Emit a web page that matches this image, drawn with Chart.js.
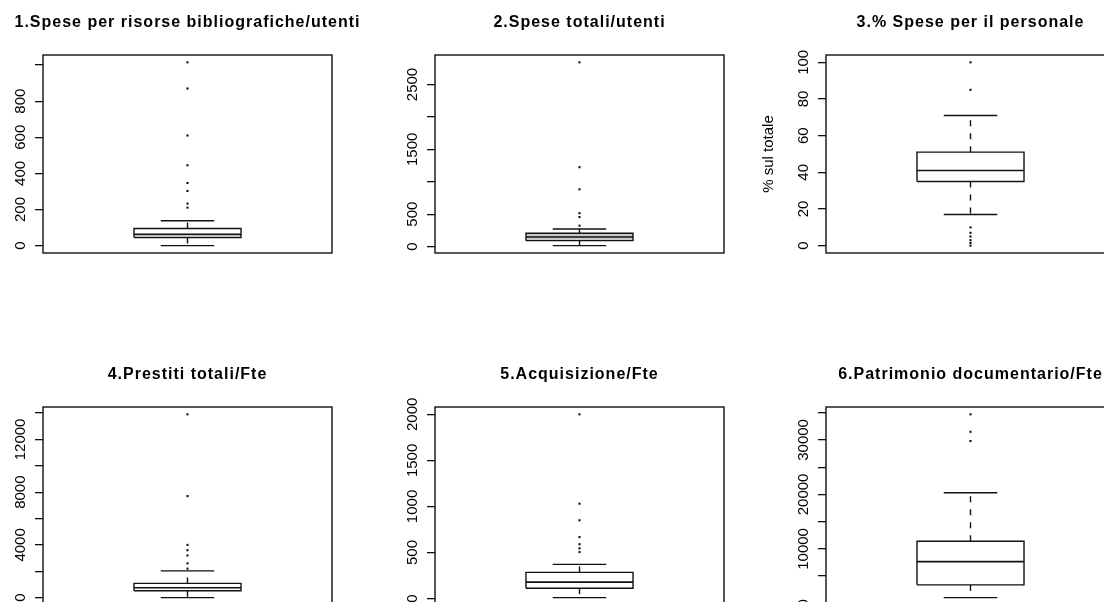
<!DOCTYPE html>
<html>
<head>
<meta charset="utf-8">
<script src="https://cdn.jsdelivr.net/npm/chart.js@4.4.1/dist/chart.umd.min.js"></script>
<style>
  body { margin: 0; background: #fff; }
  #wrap { position: relative; width: 1104px; height: 602px; overflow: hidden; background: #fff; }
  #wrap canvas { position: absolute; }
</style>
</head>
<body>
<div id="wrap"></div>
<script>
var titles = [
  '1.Spese per risorse bibliografiche/utenti',
  '2.Spese totali/utenti',
  '3.% Spese per il personale',
  '4.Prestiti totali/Fte',
  '5.Acquisizione/Fte',
  '6.Patrimonio documentario/Fte'
];
var yTitles = ['', '', '% sul totale', '', '', ''];

// five-number summaries, one entry per panel
var whiskerLow  = [0,   14,  17, 0,    10,  1050];
var quartile1   = [45,  91,  35, 520,  113, 3400];
var medians     = [63,  148, 41, 750,  178, 7650];
var quartile3   = [95,  205, 51, 1080, 284, 11400];
var whiskerHigh = [138, 271, 71, 2030, 371, 20300];

var outliers = [
  [1015, 870, 610, 445, 347, 303, 233, 211],
  [2842, 1224, 883, 515, 455, 322],
  [100, 85, 10, 7, 5, 3, 1.5, 0],
  [13900, 7700, 4000, 3600, 3200, 2600, 2200],
  [2000, 1030, 850, 668, 590, 545, 505],
  [34700, 31500, 29800]
];

var tickValues = [
  [0, 200, 400, 600, 800, 1000],
  [0, 500, 1000, 1500, 2000, 2500],
  [0, 20, 40, 60, 80, 100],
  [0, 2000, 4000, 6000, 8000, 10000, 12000, 14000],
  [0, 500, 1000, 1500, 2000],
  [0, 5000, 10000, 15000, 20000, 25000, 30000, 35000]
];
var tickLabels = [
  [0, 200, 400, 600, 800],
  [0, 500, 1500, 2500],
  [0, 20, 40, 60, 80, 100],
  [0, 4000, 8000, 12000],
  [0, 500, 1000, 1500, 2000],
  [0, 10000, 20000, 30000]
];

// layout and look
var ink = '#111111';
var textInk = '#000000';
var fontFamily = '"Liberation Sans", Arial, sans-serif';
var frameLeft = [43, 435, 826];
var rowTop = [0, 352];
var plotW = 289, plotTop = 55, canvasH = 262;
var boxFill = ['#ffffff', '#c8c8c8', '#ffffff', '#ffffff', '#ffffff', '#ffffff'];

// frame, rotated tick labels and the bold panel title
var rFrame = {
  id: 'rFrame',
  afterDraw: function(chart, args, opts) {
    var ctx = chart.ctx, a = chart.chartArea, y = chart.scales.y;
    ctx.save();
    ctx.strokeStyle = ink;
    ctx.lineWidth = 1.4;
    ctx.strokeRect(Math.round(a.left), Math.round(a.top),
                   Math.round(a.right - a.left), Math.round(a.bottom - a.top));

    ctx.fillStyle = textInk;
    ctx.textAlign = 'center';
    ctx.textBaseline = 'middle';
    ctx.font = '15px ' + fontFamily;
    opts.labels.forEach(function(v) {
      ctx.save();
      ctx.translate(a.left - 22, y.getPixelForValue(v));
      ctx.rotate(-Math.PI / 2);
      ctx.fillText(String(v), 0, 0);
      ctx.restore();
    });

    ctx.font = 'bold 16px ' + fontFamily;
    ctx.letterSpacing = '1px';
    ctx.fillText(opts.title, (a.left + a.right) / 2, a.top - 32);
    ctx.restore();
  }
};

function seg(x0, y0, x1, y1) {
  return [{x: x0, y: y0}, {x: x1, y: y1}];
}

function lineSet(data, extra) {
  return Object.assign({
    type: 'line', showLine: true, data: data, pointRadius: 0,
    borderColor: ink, borderWidth: 1.4, fill: false
  }, extra || {});
}

function BuildBoxPanel(i) {
  var col = i % 3, row = Math.floor(i / 3);
  var leftRoom = yTitles[i] ? 70 : 43;
  var canvas = document.createElement('canvas');
  canvas.width = leftRoom + plotW + 60;
  canvas.height = canvasH;
  canvas.style.left = (frameLeft[col] - leftRoom) + 'px';
  canvas.style.top = rowTop[row] + 'px';
  document.getElementById('wrap').appendChild(canvas);

  var lo = whiskerLow[i], q1 = quartile1[i], med = medians[i], q3 = quartile3[i], hi = whiskerHigh[i];
  var all = outliers[i].concat([lo, hi]);
  var dMin = Math.min.apply(null, all), dMax = Math.max.apply(null, all);
  var ext = 0.04 * (dMax - dMin);

  new Chart(canvas, {
    type: 'scatter',
    data: {
      datasets: [
        lineSet([{x: 0.8, y: q1}, {x: 1.2, y: q1}, {x: 1.2, y: q3}, {x: 0.8, y: q3}, {x: 0.8, y: q1}]),
        lineSet(seg(0.8, med, 1.2, med), {borderWidth: 1.7}),
        lineSet(seg(1, q3, 1, hi), {borderDash: [6, 7]}),
        lineSet(seg(1, q1, 1, lo), {borderDash: [6, 7]}),
        lineSet(seg(0.9, hi, 1.1, hi)),
        lineSet(seg(0.9, lo, 1.1, lo)),
        {
          type: 'scatter',
          data: outliers[i].map(function(v) { return {x: 1, y: v}; }),
          pointStyle: 'rect', pointRadius: 1.5,
          backgroundColor: ink, borderWidth: 0
        },
        lineSet(seg(0.8, q3, 1.2, q3), {borderWidth: 0, fill: {value: q1}, backgroundColor: boxFill[i]})
      ]
    },
    options: {
      responsive: false,
      animation: false,
      events: [],
      layout: { padding: { top: plotTop, bottom: canvasH - plotTop - 198, left: 0, right: 60 } },
      plugins: {
        legend: { display: false },
        tooltip: { enabled: false },
        rFrame: { title: titles[i], labels: tickLabels[i] }
      },
      scales: {
        x: { type: 'linear', display: false, min: 0.46, max: 1.54 },
        y: {
          type: 'linear',
          min: dMin - ext,
          max: dMax + ext,
          afterBuildTicks: function(s) {
            s.ticks = tickValues[i].map(function(v) { return {value: v}; });
          },
          afterFit: function(s) { s.width = leftRoom; },
          ticks: { display: false },
          grid: { drawOnChartArea: false, drawTicks: true, tickLength: 8, color: ink, lineWidth: 1.3 },
          border: { display: false },
          title: {
            display: !!yTitles[i],
            text: yTitles[i],
            color: textInk,
            font: { family: fontFamily, size: 15 },
            padding: { top: 4 }
          }
        }
      }
    },
    plugins: [rFrame]
  });
}

for (var i = 0; i < titles.length; i++) {
  BuildBoxPanel(i);
}
</script>
</body>
</html>
